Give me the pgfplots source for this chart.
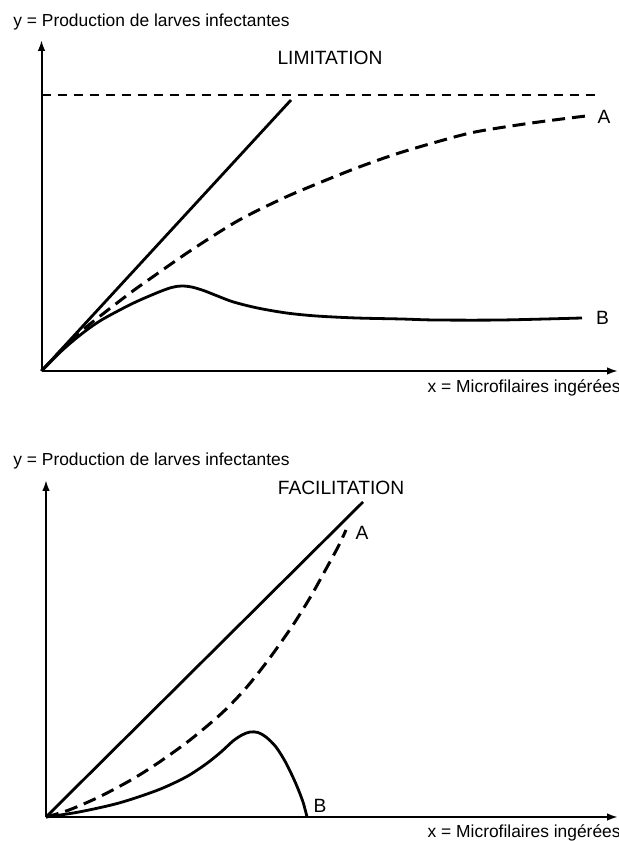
\documentclass[border=0pt]{standalone}
\usepackage{fontspec}
\setmainfont{Liberation Sans}
\usepackage{pgfplots}
\pgfplotsset{compat=1.18}
\usetikzlibrary{arrows.meta}

\pgfplotsset{myax/.style={scale only axis, axis lines=left, xtick=\empty, ytick=\empty, clip=false,
  axis line style={line width=1pt, -{Latex[length=5.5pt,width=3.8pt]}}, anchor=south west},
  solidc/.style={black, line width=1.4pt, smooth, no marks},
  dashc/.style={black, line width=1.5pt, smooth, no marks, dash pattern=on 6.5pt off 3.5pt}}

\begin{document}
\begin{tikzpicture}[x=1pt,y=1pt]
\useasboundingbox (0,0) rectangle (309.5,420.5);
% ---------- LIMITATION ----------
\begin{axis}[myax, at={(20.75pt,235pt)}, xmin=0, xmax=576.5, ymin=0, ymax=331,
  width=288.25pt, height=165.5pt]
\addplot[black, line width=0.7pt, dash pattern=on 4.5pt off 3.5pt] coordinates {(0,276) (556,276)};
\addplot[black, line width=1.4pt] coordinates {(0,0) (249.5,271)};
\addplot[dashc] coordinates {(0,0) (20,21) (40,40) (60,56) (90,79) (112.5,95) (150,121) (196,150) (240,172) (275,187) (315,203) (354.5,217) (395,229) (433.5,239) (490,248) (544.5,255)};
\addplot[solidc] coordinates {(0,0) (20,20) (40,37) (60,51) (90,67) (115,78) (130,83.5) (140,85) (150,84) (162,80.5) (176,75) (192,69) (216,63) (245,58) (275,55) (315,53) (360,52) (394,51) (460,51) (540.5,53)};
\node[font=\fontsize{9.6}{11}\selectfont] at (axis cs:288.5,313) {LIMITATION};
\node[font=\fontsize{9.6}{11}\selectfont] at (axis cs:562.5,254) {A};
\node[font=\fontsize{9.6}{11}\selectfont] at (axis cs:561,53) {B};
\end{axis}
% ---------- FACILITATION ----------
\begin{axis}[myax, at={(23pt,12pt)}, xmin=0, xmax=572, ymin=0, ymax=337,
  width=286pt, height=168.5pt]
\addplot[black, line width=1.4pt] coordinates {(0,0) (317,315)};
\addplot[dashc] coordinates {(0,0) (23,7) (53,20) (85,37) (112,54) (144,77) (176,104) (200,129) (223,158) (247,192) (265,221) (280,248) (292,270) (300,287)};
\addplot[solidc] coordinates {(0,0) (33,5) (73,14) (112,27) (140,40) (160,53) (175,65) (187,76) (196,82) (204,85) (212,84.5) (220,80) (230,70) (240,54) (250,33) (257,15) (261,0)};
\node[font=\fontsize{9.6}{11}\selectfont] at (axis cs:295,329) {FACILITATION};
\node[font=\fontsize{9.6}{11}\selectfont] at (axis cs:316,284) {A};
\node[font=\fontsize{9.6}{11}\selectfont] at (axis cs:274,11) {B};
\end{axis}
% ---------- labels ----------
\node[anchor=base west, inner sep=0, font=\fontsize{8.7}{10}\selectfont] at (6.5,407) {y = Production de larves infectantes};
\node[anchor=base east, inner sep=0, font=\fontsize{8.7}{10}\selectfont] at (310.5,224) {x = Microfilaires ingérées};
\node[anchor=base west, inner sep=0, font=\fontsize{8.7}{10}\selectfont] at (6.5,187.75) {y = Production de larves infectantes};
\node[anchor=base east, inner sep=0, font=\fontsize{8.7}{10}\selectfont] at (310.5,1.75) {x = Microfilaires ingérées};
\end{tikzpicture}
\end{document}
